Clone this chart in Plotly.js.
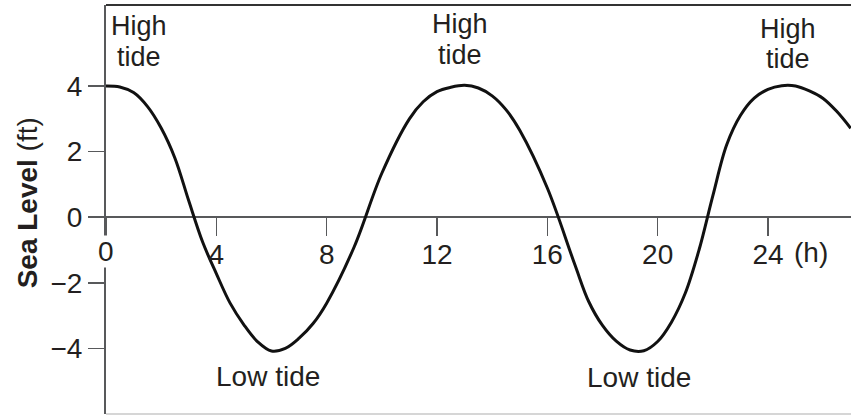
<!DOCTYPE html>
<html>
<head>
<meta charset="utf-8">
<script src="https://cdn.plot.ly/plotly-3.0.1.min.js"></script>
<style>html,body{margin:0;padding:0;background:#fff;}#chart{width:851px;height:415px;}</style>
</head>
<body>
<div id="chart"></div>
<script>
// Tide readings (hours, sea level in ft)
const hours = [0, 0.5, 1, 1.5, 2, 2.5, 3, 3.5, 4, 4.5, 5, 5.5, 6, 6.5, 7, 7.5, 8, 9, 10, 11, 11.5, 12, 12.5, 13, 13.5, 14, 14.5, 15, 16, 17, 17.5, 18, 18.5, 19, 19.5, 20, 20.5, 21, 21.5, 22, 22.5, 23, 23.5, 24, 24.5, 25, 25.5, 26, 26.5, 27];
const level = [4.0, 3.97, 3.8, 3.38, 2.72, 1.8, 0.5, -0.75, -1.72, -2.62, -3.28, -3.8, -4.08, -4.0, -3.69, -3.25, -2.62, -0.9, 1.34, 3.0, 3.52, 3.83, 3.96, 4.02, 3.94, 3.7, 3.28, 2.65, 0.89, -1.45, -2.57, -3.3, -3.78, -4.05, -4.07, -3.79, -3.2, -2.32, -1.0, 0.65, 2.2, 3.1, 3.63, 3.9, 4.01, 4.0, 3.85, 3.62, 3.22, 2.71];

const xTickVals = [0, 4, 8, 12, 16, 20, 24];
const xTickText = ['', '4', '8', '12', '16', '20', '24'];
const yTickVals = [-4, -2, 0, 2, 4];
const yTickText = ['\u22124', '\u22122', '0', '2', '4'];

const highLabels = { x: [1.18, 12.82, 24.71], yHigh: [5.82, 5.89, 5.74], yTide: [4.89, 4.96, 4.81] };
const lowLabels = { x: [5.86, 19.33], y: [-4.87, -4.88] };

const X_MAX = 27.01;
const Y_MIN = -6.0, Y_MAX = 6.47;

const FONT = 'Liberation Sans, Arial, Helvetica, sans-serif';
const TXT = '#231f20';
const AX = '#58595b';
const FS = 28;

const trace = {
  x: hours, y: level, type: 'scatter', mode: 'lines',
  line: { color: '#111', width: 3, shape: 'spline', smoothing: 1 },
  hoverinfo: 'skip'
};

const annotations = [];
highLabels.x.forEach((x, i) => {
  annotations.push({ x: x, y: highLabels.yHigh[i], xref: 'x', yref: 'y', text: 'High', showarrow: false, borderpad: 0,
    xanchor: 'center', yanchor: 'middle', font: { family: FONT, size: 27, color: TXT } });
  annotations.push({ x: x, y: highLabels.yTide[i], xref: 'x', yref: 'y', text: 'tide', showarrow: false, borderpad: 0,
    xanchor: 'center', yanchor: 'middle', font: { family: FONT, size: 27, color: TXT } });
});
lowLabels.x.forEach((x, i) => {
  annotations.push({ x: x, y: lowLabels.y[i], xref: 'x', yref: 'y', text: 'Low tide', showarrow: false,
    xanchor: 'center', yanchor: 'middle', font: { family: FONT, size: FS, color: TXT } });
});
// "0" label sitting on the vertical axis (hides the axis line behind it)
annotations.push({ x: 0, y: 0, xref: 'x', yref: 'y', text: '0', showarrow: false,
  xanchor: 'center', yanchor: 'top', yshift: -18, bgcolor: '#ffffff', borderpad: 0,
  font: { family: FONT, size: FS, color: TXT } });
// unit label after 24
annotations.push({ x: 24, y: 0, xref: 'x', yref: 'y', text: '(h)', showarrow: false,
  xanchor: 'left', yanchor: 'top', xshift: 24, yshift: -18,
  font: { family: FONT, size: FS, color: TXT } });
// y-axis title
annotations.push({ x: -79 / 745, y: 0.515, xref: 'paper', yref: 'paper', text: '<b>Sea Level</b> (ft)',
  showarrow: false, textangle: -90, xanchor: 'center', yanchor: 'middle',
  font: { family: FONT, size: FS, color: TXT } });

const layout = {
  width: 851, height: 415,
  margin: { l: 106, r: 0, t: 5, b: 1, pad: 0 },
  paper_bgcolor: '#ffffff', plot_bgcolor: '#ffffff',
  showlegend: false,
  font: { family: FONT, size: FS, color: TXT },
  xaxis: {
    range: [0, X_MAX], anchor: 'free', position: (0 - Y_MIN) / (Y_MAX - Y_MIN),
    tickmode: 'array', tickvals: xTickVals, ticktext: xTickText,
    ticks: 'outside', ticklen: 18, tickwidth: 1.5, tickcolor: AX, ticklabelstandoff: -6,
    tickfont: { family: FONT, size: FS, color: TXT },
    showline: false, showgrid: false, zeroline: false, fixedrange: true
  },
  yaxis: {
    range: [Y_MIN, Y_MAX],
    tickmode: 'array', tickvals: yTickVals, ticktext: yTickText,
    ticks: 'outside', ticklen: 16, tickwidth: 1.5, tickcolor: AX,
    tickfont: { family: FONT, size: FS, color: TXT },
    showline: true, linecolor: AX, linewidth: 2,
    showgrid: false, zeroline: true, zerolinecolor: AX, zerolinewidth: 1.5, fixedrange: true
  },
  shapes: [
    { type: 'line', xref: 'paper', yref: 'paper', x0: 0, x1: 1, y0: 1, y1: 1, line: { color: '#333333', width: 2 } },
    { type: 'line', xref: 'paper', yref: 'paper', x0: 0, x1: 1, y0: 0, y1: 0, line: { color: '#d6d6d6', width: 2 } }
  ],
  annotations: annotations
};

Plotly.newPlot('chart', [trace], layout, { staticPlot: true, displayModeBar: false });
</script>
</body>
</html>
